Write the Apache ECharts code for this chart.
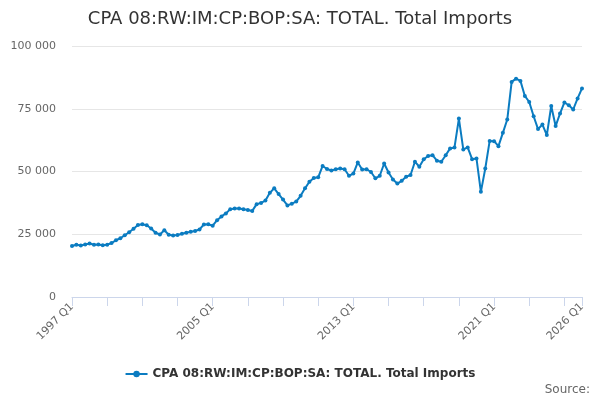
<!DOCTYPE html>
<html>
<head>
<meta charset="utf-8">
<title>Total Imports</title>
<script src="https://cdn.jsdelivr.net/npm/echarts@6/dist/echarts.min.js"></script>
<style>
  html, body { margin: 0; padding: 0; background: #fff; }
  #chart { width: 600px; height: 400px; }
</style>
</head>
<body>
<div id="chart"></div>
<script>
// 标题和图例文字
var chartTitle = "CPA 08:RW:IM:CP:BOP:SA: TOTAL. Total Imports";
var seriesName = "CPA 08:RW:IM:CP:BOP:SA: TOTAL. Total Imports";

// 年份范围 1997 Q1 - 2026 Q1
var firstYear = 1997;
var lastYear = 2026;

// 每季度的数值 (从图上读出来的估计值)
var imports = [
  20300, 20800, 20500, 20900, 21300, 20800, 20900, 20600, 20800, 21500,
  22600, 23400, 24600, 25800, 27200, 28700, 29000, 28600, 27300, 25600,
  24900, 26600, 24800, 24500, 24700, 25200, 25600, 26000, 26300, 26900,
  28900, 29000, 28400, 30600, 32100, 33300, 35000, 35300, 35300, 35000,
  34700, 34300, 37000, 37500, 38400, 41500, 43300, 41000, 38800, 36500,
  37200, 38000, 40300, 43300, 45900, 47400, 47700, 52200, 51000, 50400,
  50900, 51200, 50900, 48300, 49200, 53600, 50800, 50900, 49800, 47300,
  48300, 53200, 49600, 46800, 45200, 46300, 47900, 48600, 53900, 51900,
  54900, 56200, 56500, 54300, 53900, 56500, 59200, 59600, 71100, 58800,
  59600, 54900, 55200, 41900, 51200, 62200, 62100, 60100, 65400, 70700,
  85700, 87000, 86100, 80100, 77700, 72000, 66900, 68700, 64500, 76100,
  68100, 73100, 77500, 76400, 74700, 79100, 83100
];

// y轴刻度
var yTicks = [0, 25000, 50000, 75000, 100000];

window.onload = function () {
  // 生成季度标签
  var quarters = [];
  for (var y = firstYear; y <= lastYear; y++) {
    for (var q = 1; q <= 4; q++) {
      quarters.push(y + " Q" + q);
    }
  }
  quarters = quarters.slice(0, imports.length);
  var lastIndex = quarters.length - 1;

  var myChart = echarts.init(document.getElementById("chart"));

  var options = {
    animation: false,
    textStyle: { fontFamily: "DejaVu Sans" },
    title: {
      text: chartTitle,
      left: "center",
      top: 5,
      textStyle: {
        fontSize: 18,
        fontWeight: "normal",
        color: "#333333",
        fontFamily: "DejaVu Sans",
      },
    },
    legend: {
      bottom: 15,
      left: "center",
      itemWidth: 22,
      itemHeight: 8,
      textStyle: {
        fontSize: 12,
        fontWeight: "bold",
        color: "#333333",
      },
    },
    graphic: [
      {
        type: "text",
        right: 10,
        bottom: 4,
        style: {
          text: "Source:",
          fontSize: 12,
          fill: "#666666",
          fontFamily: "DejaVu Sans",
        },
      },
    ],
    grid: {
      left: 72,
      right: 18,
      top: 46,
      bottom: 103,
    },
    xAxis: {
      type: "category",
      data: quarters,
      boundaryGap: false,
      axisLine: { lineStyle: { color: "#ccd6eb" } },
      axisTick: {
        length: 9,
        lineStyle: { color: "#ccd6eb" },
        interval: function (index) {
          return index % 8 === 0 || index === lastIndex;
        },
      },
      axisLabel: {
        rotate: 45,
        color: "#666666",
        fontSize: 11,
        margin: 8,
        interval: function (index) {
          return index % 32 === 0 || index === lastIndex;
        },
      },
      splitLine: { show: false },
    },
    yAxis: {
      type: "value",
      min: yTicks[0],
      max: yTicks[yTicks.length - 1],
      interval: yTicks[1] - yTicks[0],
      axisLine: { show: false },
      axisTick: { show: false },
      axisLabel: {
        color: "#666666",
        fontSize: 11,
        margin: 16,
        formatter: function (v) {
          // 千位用空格分隔
          return String(v).replace(/\B(?=(\d{3})+(?!\d))/g, " ");
        },
      },
      splitLine: { lineStyle: { color: "#e6e6e6" } },
    },
    series: [
      {
        name: seriesName,
        type: "line",
        data: imports,
        symbol: "circle",
        symbolSize: 4,
        showAllSymbol: true,
        color: "#0b7cc1",
        lineStyle: { width: 2, color: "#0b7cc1" },
        itemStyle: { color: "#0b7cc1" },
      },
    ],
  };
  myChart.setOption(options);
};
</script>
</body>
</html>
